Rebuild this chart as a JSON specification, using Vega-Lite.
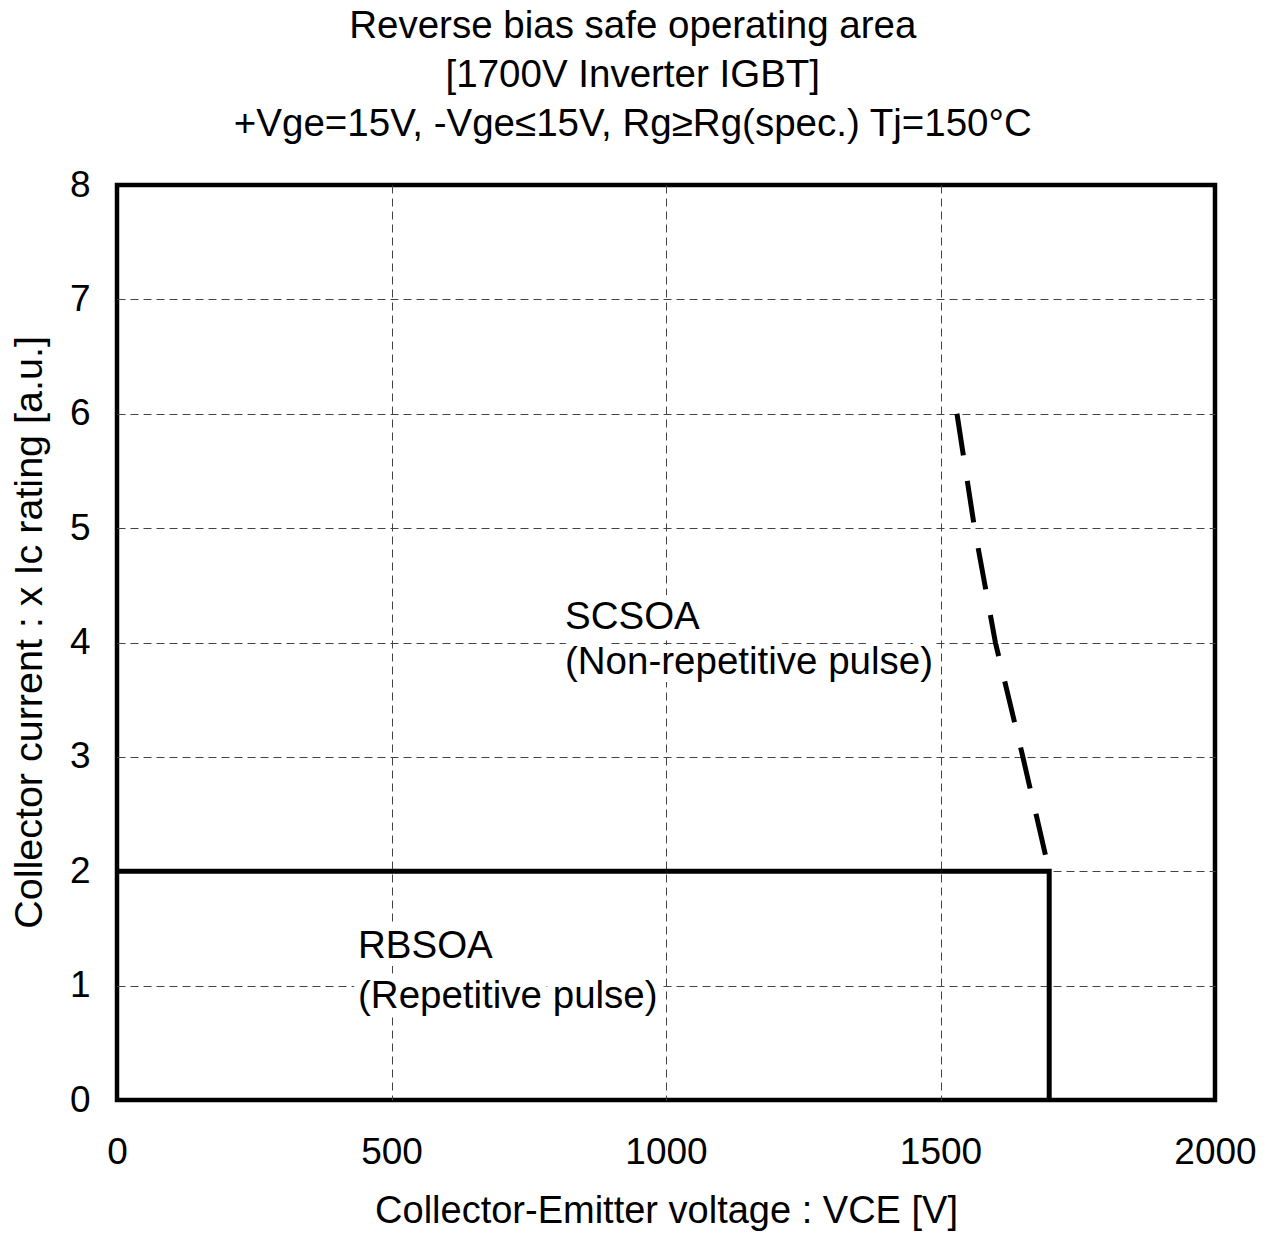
{
  "$schema": "https://vega.github.io/schema/vega-lite/v6.json",
  "width": 1098,
  "height": 915,
  "autosize": {"type": "none"},
  "padding": {"left": 117, "top": 185, "right": 53, "bottom": 134},
  "background": "white",
  "title": {
    "text": ["Reverse bias safe operating area", "[1700V Inverter IGBT]", "+Vge=15V, -Vge≤15V, Rg≥Rg(spec.) Tj=150°C"],
    "font": "Liberation Sans",
    "fontSize": 38.5,
    "fontWeight": "normal",
    "color": "black",
    "lineHeight": 49,
    "anchor": "middle",
    "frame": "bounds",
    "offset": 22
  },
  "config": {
    "view": {"stroke": "black", "strokeWidth": 4.5},
    "axis": {
      "zindex": 0,
      "domain": false,
      "ticks": false,
      "grid": true,
      "gridColor": "#444444",
      "gridWidth": 1,
      "gridDash": [8, 5],
      "labelFont": "Liberation Sans",
      "labelFontSize": 37,
      "labelColor": "black",
      "labelFlush": false,
      "format": "d",
      "titleFont": "Liberation Sans",
      "titleFontSize": 38,
      "titleFontWeight": "normal",
      "titleColor": "black"
    }
  },
  "datasets": {
    "curves": [
      {"series": "RBSOA", "order": 1, "vce": 0, "ic": 2},
      {"series": "RBSOA", "order": 2, "vce": 1698, "ic": 2},
      {"series": "RBSOA", "order": 3, "vce": 1698, "ic": 0},
      {"series": "SCSOA", "order": 1, "vce": 1530, "ic": 6},
      {"series": "SCSOA", "order": 2, "vce": 1562, "ic": 5},
      {"series": "SCSOA", "order": 3, "vce": 1600, "ic": 4},
      {"series": "SCSOA", "order": 4, "vce": 1650, "ic": 3},
      {"series": "SCSOA", "order": 5, "vce": 1698, "ic": 2}
    ],
    "labels": [
      {"vce": 816, "ic": 4.22, "label": "SCSOA"},
      {"vce": 816, "ic": 3.83, "label": "(Non-repetitive pulse)"},
      {"vce": 439, "ic": 1.35, "label": "RBSOA"},
      {"vce": 439, "ic": 0.91, "label": "(Repetitive pulse)"}
    ]
  },
  "encoding": {
    "x": {
      "field": "vce", "type": "quantitative",
      "scale": {"domain": [0, 2000], "nice": false},
      "axis": {
        "values": [0, 500, 1000, 1500, 2000],
        "title": "Collector-Emitter voltage : VCE [V]",
        "labelPadding": 34, "titlePadding": 22,
        "gridOpacity": {"condition": {"test": "datum.value === 0 || datum.value === 2000", "value": 0}, "value": 1}
      }
    },
    "y": {
      "field": "ic", "type": "quantitative",
      "scale": {"domain": [0, 8], "nice": false},
      "axis": {
        "values": [0, 1, 2, 3, 4, 5, 6, 7, 8],
        "title": "Collector current : x Ic rating [a.u.]",
        "titleFontSize": 39.5,
        "titleY": 447,
        "titleAnchor": "middle",
        "labelPadding": 27, "titlePadding": 20,
        "gridOpacity": {"condition": {"test": "datum.value === 0 || datum.value === 8", "value": 0}, "value": 1}
      }
    }
  },
  "layer": [
    {
      "data": {"name": "labels"},
      "mark": {"type": "text", "align": "left", "baseline": "middle", "font": "Liberation Sans", "fontSize": 38.5, "stroke": "white", "strokeWidth": 16, "fill": "white", "strokeJoin": "round"},
      "encoding": {"text": {"field": "label"}}
    },
    {
      "data": {"name": "labels"},
      "mark": {"type": "text", "align": "left", "baseline": "middle", "font": "Liberation Sans", "fontSize": 38.5, "fill": "black"},
      "encoding": {"text": {"field": "label"}}
    },
    {
      "data": {"name": "curves"},
      "transform": [{"filter": "datum.series === 'RBSOA'"}],
      "mark": {"type": "line", "color": "black", "strokeWidth": 5},
      "encoding": {"order": {"field": "order", "type": "quantitative"}}
    },
    {
      "data": {"name": "curves"},
      "transform": [{"filter": "datum.series === 'SCSOA'"}],
      "mark": {"type": "line", "color": "black", "strokeWidth": 5, "strokeDash": [42, 26]},
      "encoding": {"order": {"field": "order", "type": "quantitative"}}
    }
  ]
}
